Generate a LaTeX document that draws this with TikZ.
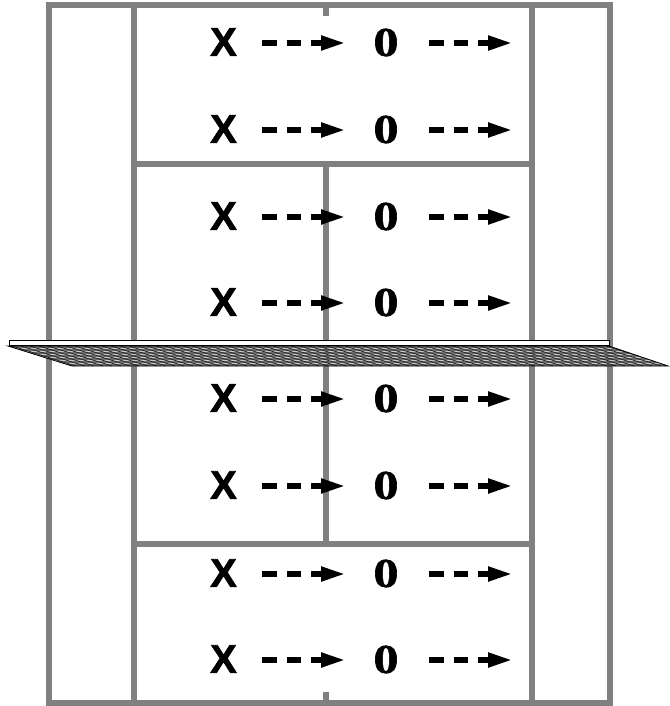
\documentclass[tikz,border=0pt]{standalone}
\usepackage{fontspec}
\setmainfont{Liberation Sans}
\newfontfamily\xfont{Liberation Sans}[FakeBold=1.6]
\newfontfamily\zerofont{Liberation Serif}[FakeBold=1.2]
\usetikzlibrary{arrows.meta}
\definecolor{courtgray}{RGB}{128,128,128}
\begin{document}
\begin{tikzpicture}[x=1pt,y=-1pt,
  courtline/.style={draw=courtgray,line width=5.5pt},
  playerx/.style={inner sep=0pt,font=\fontsize{40}{40}\selectfont\xfont\bfseries},
  playero/.style={inner sep=0pt,xscale=1.22,font=\fontsize{41}{41}\selectfont\zerofont\bfseries},
  runarrow/.style={line width=6pt,dash pattern=on 14.5pt off 10pt,-{Triangle[length=25pt,width=13.5pt]}}]
\useasboundingbox (0,0) rectangle (669,706);
% court
\draw[courtline] (49,5) rectangle (610,703);
\draw[courtline] (134,5) -- (134,703);
\draw[courtline] (532,5) -- (532,703);
\draw[courtline] (134,164) -- (532,164);
\draw[courtline] (134,544) -- (532,544);
\draw[courtline] (326,164) -- (326,544);
\draw[courtline] (326,5) -- (326,16);
\draw[courtline] (326,692) -- (326,703);
% net
\begin{scope}
\clip (8,346) -- (609,346) -- (668,366) -- (72,366) -- cycle;
\fill[black!65,fill opacity=0.85] (0,340) rectangle (669,370);
\foreach \yy in {348,351,...,366} \draw[white!80!black,line width=0.9pt] (0,\yy) -- (669,\yy);
\foreach \xx in {-60,-51,...,680} \draw[black!85,line width=0.8pt] (\xx,346) -- (\xx+64,366);
\end{scope}
\draw[line width=0.8pt] (8,346) -- (609,346) -- (668,366) -- (72,366) -- cycle;
\draw[line width=0.8pt,fill=white] (9,340) rectangle (609,345.5);
% players
\foreach \r/\yy in {1/42,2/129,3/216,4/302,5/398,6/485,7/573,8/659}{
  \node[playerx] (x\r) at (223.5,\yy) {X};
  \node[playero] (o\r) at (386,\yy+0.5) {0};
  \coordinate (e\r) at (513,\yy+1);
  \draw[runarrow] ([xshift=38.5pt]x\r.center |- e\r) -- ([xshift=-40pt]o\r.center |- e\r);
  \draw[runarrow] ([xshift=43pt]o\r.center |- e\r) -- (e\r);
}
\end{tikzpicture}
\end{document}
